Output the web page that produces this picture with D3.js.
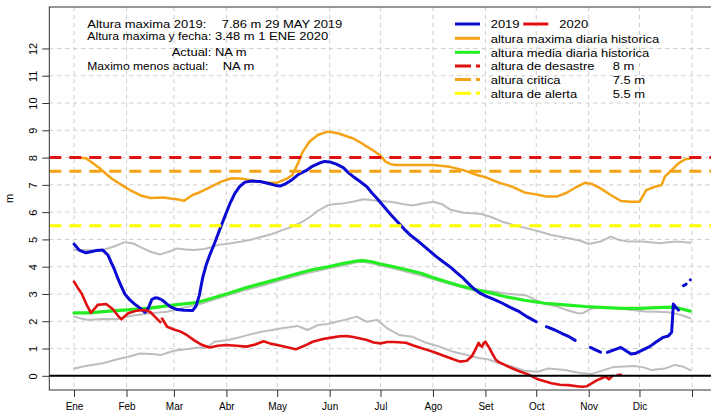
<!DOCTYPE html>
<html><head><meta charset="utf-8">
<script src="https://cdn.jsdelivr.net/npm/d3@7"></script>
<style>
body{margin:0;background:#fff;}
svg{display:block;font-family:"Liberation Sans",Arial,sans-serif;}
</style>
</head><body>
<svg id="chart" width="711" height="413"></svg>
<script>
// ---------------- DATA ----------------
const monthLabels = ["Ene","Feb","Mar","Abr","May","Jun","Jul","Ago","Set","Oct","Nov","Dic",""];
const monthStartDays = [1,32,60,91,121,152,182,213,244,274,305,335,366];
const yTicks = [0,1,2,3,4,5,6,7,8,9,10,11,12];

// altura maxima diaria historica [day, m]
const maxHist = [[1,8.0],[8,7.98],[12,7.8],[16,7.62],[20,7.4],[23,7.24],[29,7.0],[34,6.81],[41,6.6],[46,6.52],[50,6.53],[54,6.54],[58,6.5],[61,6.48],[66,6.42],[71,6.63],[75,6.72],[80,6.87],[88,7.12],[94,7.24],[101,7.22],[108,7.14],[115,7.08],[121,7.08],[127,7.24],[130,7.36],[133,7.75],[136,8.2],[140,8.58],[145,8.83],[151,8.95],[157,8.89],[162,8.78],[166,8.7],[170,8.56],[174,8.4],[178,8.25],[182,8.07],[185,7.85],[188,7.76],[191,7.73],[201,7.73],[213,7.73],[223,7.66],[231,7.54],[239,7.36],[244,7.28],[252,7.08],[260,6.93],[267,6.72],[273,6.66],[280,6.57],[286,6.57],[292,6.71],[298,6.93],[303,7.08],[307,7.03],[312,6.87],[318,6.63],[324,6.41],[330,6.38],[335,6.38],[339,6.81],[344,6.93],[348,6.99],[350,7.3],[354,7.54],[358,7.79],[362,7.94],[365,7.97]];

// altura media diaria historica
const meanHist = [[1,2.31],[10,2.31],[20,2.36],[32,2.42],[46,2.48],[58,2.58],[66,2.64],[73,2.68],[80,2.8],[92,3.02],[102,3.22],[112,3.39],[122,3.56],[132,3.73],[141,3.88],[151,4.0],[161,4.13],[168,4.21],[172,4.22],[177,4.18],[182,4.1],[190,4.0],[198,3.88],[206,3.76],[213,3.6],[221,3.45],[229,3.3],[238,3.16],[247,3.04],[256,2.9],[267,2.77],[279,2.66],[291,2.6],[303,2.54],[315,2.5],[325,2.47],[335,2.47],[345,2.5],[355,2.52],[360,2.45],[365,2.37]];

// gray reference curves
const grayUpper = [[1,4.61],[10,4.6],[18,4.61],[25,4.75],[31,4.9],[36,4.85],[40,4.73],[46,4.55],[52,4.45],[57,4.55],[62,4.67],[67,4.63],[72,4.61],[78,4.65],[82,4.71],[86,4.8],[92,4.84],[100,4.92],[106,5.0],[112,5.1],[118,5.2],[124,5.34],[130,5.47],[136,5.65],[141,5.85],[145,6.05],[151,6.26],[156,6.3],[161,6.33],[167,6.4],[172,6.47],[180,6.42],[188,6.38],[195,6.3],[201,6.24],[207,6.32],[213,6.38],[218,6.3],[223,6.1],[231,5.98],[241,5.94],[247,5.83],[254,5.65],[264,5.47],[273,5.34],[283,5.16],[293,5.04],[300,4.95],[305,4.83],[312,4.92],[318,5.1],[323,4.98],[328,4.92],[337,4.92],[347,4.86],[352,4.9],[357,4.92],[365,4.88]];
const grayMiddle = [[1,2.17],[5,2.1],[9,2.05],[18,2.08],[26,2.07],[34,2.19],[46,2.29],[56,2.35],[66,2.5],[75,2.62],[80,2.72],[92,2.96],[102,3.14],[112,3.3],[122,3.48],[132,3.66],[141,3.8],[151,3.93],[161,4.06],[168,4.16],[172,4.18],[177,4.12],[182,4.04],[190,3.93],[198,3.8],[206,3.68],[213,3.55],[221,3.4],[229,3.26],[238,3.12],[244,3.12],[250,3.08],[256,3.02],[262,2.98],[268,2.95],[273,2.8],[280,2.62],[286,2.55],[292,2.41],[298,2.3],[301,2.28],[305,2.42],[308,2.48],[315,2.52],[322,2.48],[332,2.4],[338,2.36],[345,2.35],[352,2.33],[357,2.27],[361,2.2],[365,2.11]];
const grayLower = [[1,0.27],[8,0.36],[18,0.46],[26,0.6],[32,0.68],[40,0.82],[47,0.8],[52,0.76],[60,0.92],[67,0.97],[75,1.04],[79,1.03],[84,1.25],[92,1.31],[98,1.4],[104,1.5],[112,1.62],[118,1.68],[124,1.74],[133,1.83],[139,1.68],[145,1.86],[151,1.9],[156,1.98],[161,2.05],[168,2.17],[174,1.98],[180,2.05],[186,1.74],[193,1.5],[201,1.43],[209,1.21],[217,1.07],[225,0.88],[233,0.76],[241,0.64],[246,0.6],[252,0.46],[260,0.33],[267,0.19],[275,0.15],[281,0.27],[291,0.21],[301,0.09],[307,0.07],[313,0.19],[319,0.31],[326,0.34],[332,0.36],[338,0.3],[342,0.21],[350,0.27],[356,0.4],[361,0.33],[365,0.21]];

// 2019 (null = missing)
const serie2019 = [[1,4.83],[4,4.61],[8,4.51],[11,4.55],[14,4.59],[18,4.61],[21,4.43],[23,4.15],[25,3.88],[27,3.55],[29,3.27],[31,3.0],[34,2.78],[37,2.62],[39,2.53],[43,2.33],[45,2.5],[47,2.8],[49,2.86],[51,2.84],[53,2.78],[56,2.63],[58,2.53],[62,2.43],[66,2.4],[71,2.39],[73,2.55],[75,2.95],[77,3.6],[79,4.05],[81,4.4],[84,4.86],[87,5.35],[90,5.83],[93,6.3],[96,6.69],[99,6.95],[102,7.1],[106,7.14],[111,7.12],[116,7.05],[120,6.98],[123,6.96],[126,7.04],[130,7.2],[134,7.4],[138,7.52],[142,7.69],[146,7.8],[149,7.86],[152,7.84],[156,7.76],[160,7.63],[163,7.45],[166,7.3],[170,7.12],[174,6.93],[177,6.7],[180,6.5],[183,6.28],[186,6.06],[189,5.85],[192,5.65],[196,5.38],[200,5.14],[204,4.95],[207,4.79],[211,4.58],[215,4.37],[219,4.18],[223,4.0],[227,3.78],[231,3.57],[234,3.38],[237,3.2],[241,3.02],[244,2.93],[249,2.8],[254,2.66],[259,2.5],[264,2.35],[269,2.15],[274,1.98],[277,null],[280,1.8],[285,1.68],[289,1.56],[293,1.45],[297,1.3],[301,null],[306,1.04],[309,0.95],[312,0.87],[314,null],[316,0.86],[320,0.95],[324,1.04],[327,0.92],[330,0.8],[333,0.83],[337,0.95],[341,1.07],[345,1.25],[349,1.41],[352,1.46],[354,1.6],[355,2.63],[356,2.55],[358,2.41],[359,null],[361,3.3],[362.5,3.36],[364,null],[365,3.52]];

// 2020
const serie2020 = [[1,3.45],[3,3.25],[5.5,3.02],[8.5,2.6],[11,2.31],[13,2.45],[15,2.6],[20,2.63],[24,2.44],[27,2.2],[29,2.07],[31,2.18],[33,2.29],[38,2.39],[43,2.41],[46,2.34],[49,2.15],[52,1.97],[52.5,null],[53,2.1],[56,1.8],[60,1.7],[64,1.62],[68,1.48],[72,1.3],[76,1.15],[81,1.04],[86,1.1],[91,1.13],[97,1.1],[103,1.07],[108,1.15],[113,1.27],[117,1.18],[121,1.13],[127,1.05],[132,0.97],[137,1.1],[142,1.25],[148,1.35],[154,1.41],[158,1.45],[162,1.46],[166,1.42],[170,1.37],[174,1.31],[178,1.22],[182,1.19],[186,1.24],[190,1.24],[197,1.21],[201,1.12],[205,1.04],[209,0.96],[213,0.88],[217,0.79],[221,0.7],[225,0.61],[229,0.52],[233,0.55],[236,0.72],[238,0.95],[240,1.21],[241,1.1],[242,1.07],[243,1.2],[244,1.25],[246,1.05],[248,0.82],[250,0.6],[252,0.5],[256,0.38],[260,0.27],[264,0.17],[268,0.08],[271,0.0],[275,-0.13],[279,-0.2],[283,-0.27],[288,-0.33],[293,-0.34],[298,-0.38],[301,-0.4],[304,-0.38],[307,-0.27],[310,-0.16],[313,-0.08],[315,-0.03],[317,-0.13],[319,0.0],[320.5,null],[322,0.03],[324,0.04]];

// thresholds
const thresholdValues = [8, 7.5, 5.5];
const thresholdLabels = ["altura de desastre","altura critica","altura de alerta"];
const thresholdText = ["8 m","7.5 m","5.5 m"];

const infoLines = [
  ["Altura maxima 2019:", "7.86 m 29 MAY 2019"],
  ["Altura maxima y fecha:", "3.48 m 1 ENE 2020"],
  ["Actual: NA m", ""],
  ["Maximo menos actual:", "NA m"]
];

// ---------------- CHART ----------------
(function(){
const svg = d3.select("#chart");
const pL = 49.3, pR = 716.7, pT = 7, pB = 390;
const x = d3.scaleLinear().domain([1 - 0.04*365, 366 + 0.04*365]).range([pL, pR]);
const y = d3.scaleLinear().domain([-0.52, 13.52]).range([pB, pT]);

svg.append("defs").append("clipPath").attr("id","clip")
  .append("rect").attr("x",pL).attr("y",pT).attr("width",pR-pL).attr("height",pB-pT);

const plot = svg.append("g").attr("clip-path","url(#clip)");

// grid
plot.selectAll(".hg").data(yTicks).join("line").attr("class","hg")
  .attr("x1",pL).attr("x2",pR).attr("y1",d=>y(d)).attr("y2",d=>y(d))
  .attr("stroke","#cdcdcd").attr("stroke-width",1).attr("stroke-dasharray","4,4");
plot.selectAll(".vg").data(monthStartDays).join("line").attr("class","vg")
  .attr("x1",d=>x(d)).attr("x2",d=>x(d)).attr("y1",pT).attr("y2",pB)
  .attr("stroke","#cdcdcd").attr("stroke-width",1).attr("stroke-dasharray","4,4");

const line = d3.line().defined(d=>d[1]!==null).x(d=>x(d[0])).y(d=>y(d[1]));

function drawSeries(data, color, width){
  plot.append("path").datum(data).attr("d",line)
    .attr("fill","none").attr("stroke",color).attr("stroke-width",width)
    .attr("stroke-linejoin","round").attr("stroke-linecap","round");
}
drawSeries(grayUpper,"#bdbdbd",2);
drawSeries(grayLower,"#bdbdbd",2);
drawSeries(grayMiddle,"#bdbdbd",2);
drawSeries(meanHist,"#22ee22",3.2);
drawSeries(maxHist,"#f5a316",2.5);
drawSeries(serie2019,"#0a0ad2",3);
drawSeries(serie2020,"#e01010",2.6);

const thrColors = ["#e01010","#f5a316","#ffff00"];
plot.selectAll(".thr").data(thresholdValues).join("line").attr("class","thr")
  .attr("x1",pL).attr("x2",pR).attr("y1",d=>y(d)).attr("y2",d=>y(d))
  .attr("stroke",(d,i)=>thrColors[i]).attr("stroke-width",3).attr("stroke-dasharray","12,8");

// zero line
plot.append("line").attr("x1",pL).attr("x2",pR).attr("y1",y(0)).attr("y2",y(0))
  .attr("stroke","#000").attr("stroke-width",2);

// box
svg.append("rect").attr("x",pL).attr("y",pT).attr("width",pR-pL).attr("height",pB-pT)
  .attr("fill","none").attr("stroke","#333").attr("stroke-width",1);

// axes
const xAxis = svg.append("g").attr("transform",`translate(0,${pB})`)
  .call(d3.axisBottom(x).tickValues(monthStartDays).tickFormat((d,i)=>monthLabels[i]).tickSize(7).tickPadding(6));
xAxis.select(".domain").remove();
xAxis.selectAll("line").attr("stroke","#333");
xAxis.selectAll("text").attr("font-size","10px").attr("fill","#000").attr("font-family","Liberation Sans, Arial, sans-serif");

const yAxis = svg.append("g").attr("transform",`translate(${pL},0)`)
  .call(d3.axisLeft(y).tickValues(yTicks).tickSize(7));
yAxis.select(".domain").remove();
yAxis.selectAll("line").attr("stroke","#333");
yAxis.selectAll("text")
  .attr("x",null).attr("dy",null).attr("y",null)
  .attr("transform","translate(-12,0) rotate(-90)")
  .attr("text-anchor","middle")
  .attr("font-size","11px").attr("fill","#000").attr("font-family","Liberation Sans, Arial, sans-serif");

svg.append("text").attr("transform","translate(13.3,198.5) rotate(-90)")
  .attr("text-anchor","middle").attr("font-size","11px").text("m");

// wide text helper (reference text is horizontally stretched)
function wideText(g, xx, yy, t, len){
  const el = g.append("text").attr("transform",`translate(${xx},${yy}) scale(1.18,1)`)
    .attr("font-size","11px").attr("fill","#000").text(t);
  if(len) el.attr("textLength",len/1.18).attr("lengthAdjust","spacingAndGlyphs");
  return el;
}

// info text
const infoBase = [27.6, 40.2, 55.5, 70.3];
const infoX1 = [87.3, 87.3, 171.7, 87.3];
const infoX2 = [221.7, 215, 0, 222.7];
const infoLen = [119, 124, 0, 121];
infoLines.forEach((l,i)=>{
  wideText(svg, infoX1[i], infoBase[i], l[0], infoLen[i]);
  if(l[1]) wideText(svg, infoX2[i], infoBase[i], l[1]);
});

// legend
const legRowY = [24, 38.3, 52.3, 65.9, 79.5, 93.3];
const lg = svg.append("g");
function legLine(x1,x2,yy,color,width,dash){
  lg.append("line").attr("x1",x1).attr("x2",x2).attr("y1",yy).attr("y2",yy)
    .attr("stroke",color).attr("stroke-width",width).attr("stroke-dasharray",dash||null);
}
function legText(xx,yy,t){ wideText(lg, xx, yy+4.3, t); }
legLine(455,480,legRowY[0],"#0a0ad2",3);
legText(490.7,legRowY[0],"2019");
legLine(523.3,548.3,legRowY[0],"#e01010",3);
legText(559.3,legRowY[0],"2020");
legLine(455,480,legRowY[1],"#f5a316",3);
legText(490.7,legRowY[1],"altura maxima diaria historica");
legLine(455,480,legRowY[2],"#22ee22",3);
legText(490.7,legRowY[2],"altura media diaria historica");
thresholdLabels.forEach((t,i)=>{
  legLine(455,480,legRowY[3+i],thrColors[i],3,"16,5");
  legText(490.7,legRowY[3+i],t);
  legText(612.7,legRowY[3+i],thresholdText[i]);
});
})();
</script>
</body></html>
